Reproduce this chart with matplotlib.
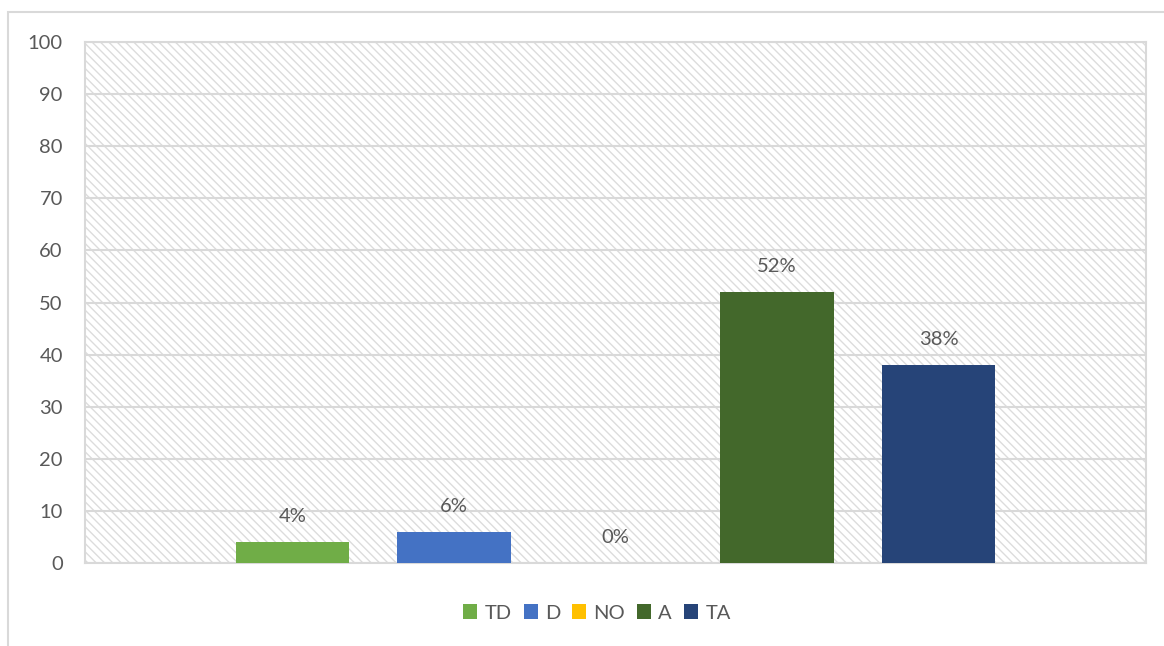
import matplotlib.pyplot as plt
from matplotlib.patches import Rectangle, Patch

# Respuestas por categoría (porcentaje)
categorias = ['TD', 'D', 'NO', 'A', 'TA']
valores = [4, 6, 0, 52, 38]
colores = ['#70ad47', '#4472c4', '#ffc000', '#43682b', '#264478']

gris_texto = '#595959'
gris_linea = '#d9d9d9'

plt.rcParams['font.family'] = ['Lato', 'DejaVu Sans']
plt.rcParams['hatch.linewidth'] = 1.0

fig = plt.figure(figsize=(11.64, 6.46), dpi=100)
ax = fig.add_axes([85 / 1164, 1 - 563 / 646, (1146 - 85) / 1164, (563 - 42) / 646])

# marco exterior del gráfico
fig.patches.append(Rectangle((8 / 1164, -0.2), 1.2, 1.2 - 12 / 646,
                             transform=fig.transFigure, fill=False,
                             edgecolor=gris_linea, linewidth=1.5, zorder=0))

# fondo rayado del área de trazado
ax.add_patch(Rectangle((0, 0), 1, 1, transform=ax.transAxes, facecolor='white',
                       edgecolor='#dcdcdc', hatch='\\\\\\\\', linewidth=0, zorder=0))

posiciones = [i - 2 for i in range(len(categorias))]
barras = ax.bar(posiciones, valores, width=0.7, color=colores, zorder=3)

for x, v in zip(posiciones, valores):
    ax.annotate(f'{v}%', (x, v), xytext=(0, 18.5), textcoords='offset points',
                ha='center', va='center', fontsize=14.5, color=gris_texto, zorder=4)

ax.set_xlim(-3.285, 3.285)
ax.set_ylim(0, 100)
ax.set_yticks(range(0, 101, 10))
ax.set_xticks([])
ax.yaxis.grid(True, color=gris_linea, linewidth=1.5, zorder=1)
ax.set_axisbelow(True)
ax.tick_params(axis='y', length=0, pad=16, labelsize=14.5, labelcolor=gris_texto)
for s in ax.spines.values():
    s.set_color(gris_linea)
    s.set_linewidth(1.5)

handles = [Patch(facecolor=c, edgecolor='none') for c in colores]
fig.legend(handles, categorias, loc='center', bbox_to_anchor=(597 / 1164, 1 - 613 / 646),
           ncol=5, frameon=False, fontsize=14.5, labelcolor=gris_texto,
           handlelength=0.7, handleheight=0.7, handletextpad=0.35, columnspacing=0.6)

fig.savefig('out.png', dpi=100)
